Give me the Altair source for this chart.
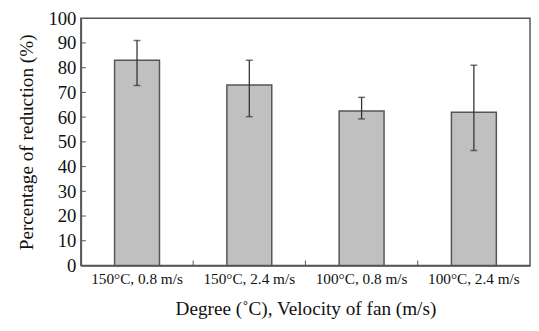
import altair as alt
import pandas as pd

categories = ["150°C, 0.8 m/s", "150°C, 2.4 m/s", "100°C, 0.8 m/s", "100°C, 2.4 m/s"]
means = [83, 73, 62.5, 62]
lows = [72.8, 60.2, 59.3, 46.5]
highs = [91, 83, 68, 81]
y_ticks = [10, 20, 30, 40, 50, 60, 70, 80, 90]
y_labels = [0, 10, 20, 30, 40, 50, 60, 70, 80, 90, 100]
x_boundaries = categories[1:]

df = pd.DataFrame({"cat": categories, "mean": means, "low": lows, "high": highs})
yt = pd.DataFrame({"v": y_ticks})
xb = pd.DataFrame({"cat": x_boundaries})

FONT = "Liberation Serif"
W, H = 456, 251

xscale = alt.Scale(domain=categories, paddingInner=0.6, paddingOuter=0.3)
xscale_b = alt.Scale(domain=categories, paddingInner=0, paddingOuter=0)
yscale = alt.Scale(domain=[0, 100])

base = alt.Chart(df)

bars = base.mark_bar(color="#c0c0c0", stroke="#555555", strokeWidth=1.5).encode(
    x=alt.X("cat:N", scale=xscale, sort=categories,
            axis=alt.Axis(title="Degree (˚C), Velocity of fan (m/s)", labelAngle=0,
                          ticks=False, labelPadding=6, titlePadding=13,
                          labelFont=FONT, titleFont=FONT,
                          labelFontSize=15.5, titleFontSize=19.5)),
    y=alt.Y("mean:Q", scale=yscale,
            axis=alt.Axis(title="Percentage of reduction (%)", values=y_labels,
                          ticks=False, labelPadding=5, titlePadding=12, grid=False,
                          labelFont=FONT, titleFont=FONT,
                          labelFontSize=19, titleFontSize=19.5)),
)

err = base.mark_errorbar(ticks={"size": 7, "thickness": 1.5, "color": "#333333"},
                         color="#333333", thickness=1.3).encode(
    x=alt.X("cat:N", scale=xscale, sort=categories, axis=None),
    y=alt.Y("low:Q", scale=yscale, axis=None),
    y2="high:Q",
)

ytick = alt.Chart(yt).mark_rule(color="#555555", strokeWidth=1).encode(
    y=alt.Y("v:Q", scale=yscale, axis=None),
    x=alt.value(0),
    x2=alt.value(5),
)

xtick = alt.Chart(xb).mark_rule(color="#555555", strokeWidth=1).encode(
    x=alt.X("cat:N", scale=xscale_b, sort=categories, bandPosition=0, axis=None),
    y=alt.value(H),
    y2=alt.value(H - 5),
)

chart = alt.layer(bars, err, ytick, xtick).resolve_scale(x="independent").resolve_axis(
    y="independent"
).properties(
    width=W, height=H,
    autosize=alt.AutoSizeParams(type="none"),
    padding={"left": 74, "top": 8, "right": 1, "bottom": 55},
).configure_view(stroke="#555555", strokeWidth=1.5).configure_axis(
    labelFont=FONT, titleFont=FONT, labelColor="#111111", titleColor="#111111",
    titleFontWeight="normal", domainColor="#555555", domainWidth=1.5,
)

chart.save("out.html", embed_options={"renderer": "svg", "actions": False})
